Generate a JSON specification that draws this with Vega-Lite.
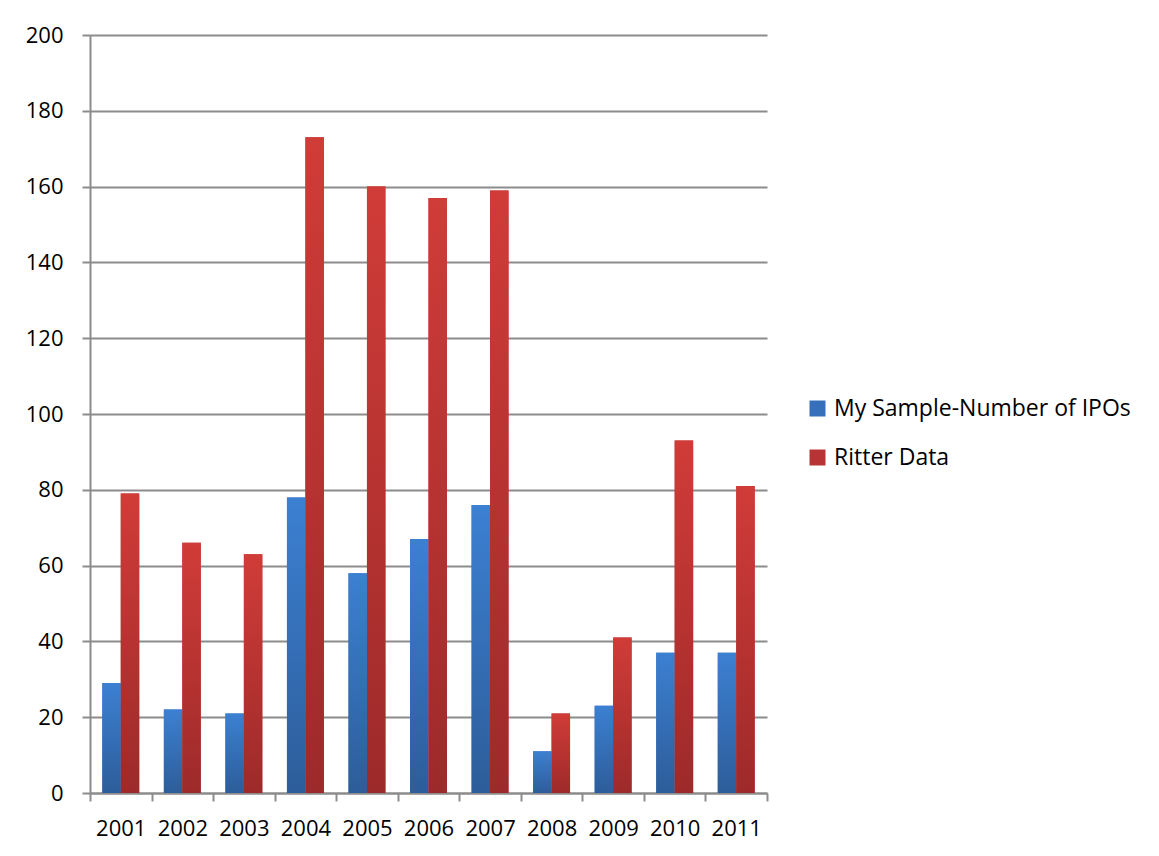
{
  "$schema": "https://vega.github.io/schema/vega-lite/v6.json",
  "autosize": "none",
  "padding": {"left": 90, "top": 35, "right": 392, "bottom": 63},
  "width": 677,
  "height": 758,
  "background": "white",
  "data": {
    "values": [
      {"year": "2001", "series": "My Sample-Number of IPOs", "count": 29},
      {"year": "2001", "series": "Ritter Data", "count": 79},
      {"year": "2002", "series": "My Sample-Number of IPOs", "count": 22},
      {"year": "2002", "series": "Ritter Data", "count": 66},
      {"year": "2003", "series": "My Sample-Number of IPOs", "count": 21},
      {"year": "2003", "series": "Ritter Data", "count": 63},
      {"year": "2004", "series": "My Sample-Number of IPOs", "count": 78},
      {"year": "2004", "series": "Ritter Data", "count": 173},
      {"year": "2005", "series": "My Sample-Number of IPOs", "count": 58},
      {"year": "2005", "series": "Ritter Data", "count": 160},
      {"year": "2006", "series": "My Sample-Number of IPOs", "count": 67},
      {"year": "2006", "series": "Ritter Data", "count": 157},
      {"year": "2007", "series": "My Sample-Number of IPOs", "count": 76},
      {"year": "2007", "series": "Ritter Data", "count": 159},
      {"year": "2008", "series": "My Sample-Number of IPOs", "count": 11},
      {"year": "2008", "series": "Ritter Data", "count": 21},
      {"year": "2009", "series": "My Sample-Number of IPOs", "count": 23},
      {"year": "2009", "series": "Ritter Data", "count": 41},
      {"year": "2010", "series": "My Sample-Number of IPOs", "count": 37},
      {"year": "2010", "series": "Ritter Data", "count": 93},
      {"year": "2011", "series": "My Sample-Number of IPOs", "count": 37},
      {"year": "2011", "series": "Ritter Data", "count": 81}
    ]
  },
  "encoding": {
    "x": {
      "field": "year",
      "type": "nominal",
      "title": null,
      "scale": {"paddingInner": 0, "paddingOuter": 0},
      "axis": {
        "labelAngle": 0,
        "tickBand": "extent",
        "tickSize": 8,
        "labelPadding": 17,
        "grid": false
      }
    },
    "xOffset": {
      "field": "series",
      "type": "nominal",
      "scale": {"paddingInner": 0, "paddingOuter": 0.667}
    },
    "y": {
      "field": "count",
      "type": "quantitative",
      "title": null,
      "scale": {"domain": [0, 200], "nice": false},
      "axis": {
        "values": [0, 20, 40, 60, 80, 100, 120, 140, 160, 180, 200],
        "tickSize": 8,
        "labelPadding": 19,
        "grid": true
      }
    }
  },
  "layer": [
    {
      "mark": {"type": "bar"},
      "encoding": {
        "fill": {
          "field": "series",
          "type": "nominal",
          "title": null,
          "scale": {
            "domain": ["My Sample-Number of IPOs", "Ritter Data"],
            "range": ["#3670bb", "#b83434"]
          },
          "legend": {
            "orient": "none",
            "legendX": 716,
            "legendY": 362,
            "padding": 0,
            "symbolType": "square",
            "symbolSize": 256,
            "symbolStrokeWidth": 0,
            "labelOffset": 5,
            "rowPadding": 25,
            "labelFont": "Open Sans",
            "labelFontSize": 23,
            "labelColor": "#000000",
            "labelLimit": 400
          }
        }
      }
    },
    {
      "transform": [{"filter": "datum.series === 'My Sample-Number of IPOs'"}],
      "mark": {
        "type": "bar",
        "color": {
          "gradient": "linear", "x1": 0, "y1": 0, "x2": 0, "y2": 1,
          "stops": [{"offset": 0, "color": "#3c80d2"}, {"offset": 1, "color": "#2d5d9a"}]
        }
      }
    },
    {
      "transform": [{"filter": "datum.series === 'Ritter Data'"}],
      "mark": {
        "type": "bar",
        "color": {
          "gradient": "linear", "x1": 0, "y1": 0, "x2": 0, "y2": 1,
          "stops": [{"offset": 0, "color": "#d03c38"}, {"offset": 1, "color": "#9d2a2a"}]
        }
      }
    }
  ],
  "config": {
    "view": {"stroke": null},
    "axis": {
      "domainColor": "#8c8c8c",
      "domainWidth": 2,
      "tickColor": "#8c8c8c",
      "tickWidth": 2,
      "gridColor": "#8c8c8c",
      "gridWidth": 2,
      "labelFont": "Open Sans",
      "labelFontSize": 22,
      "labelColor": "#000000"
    }
  }
}
